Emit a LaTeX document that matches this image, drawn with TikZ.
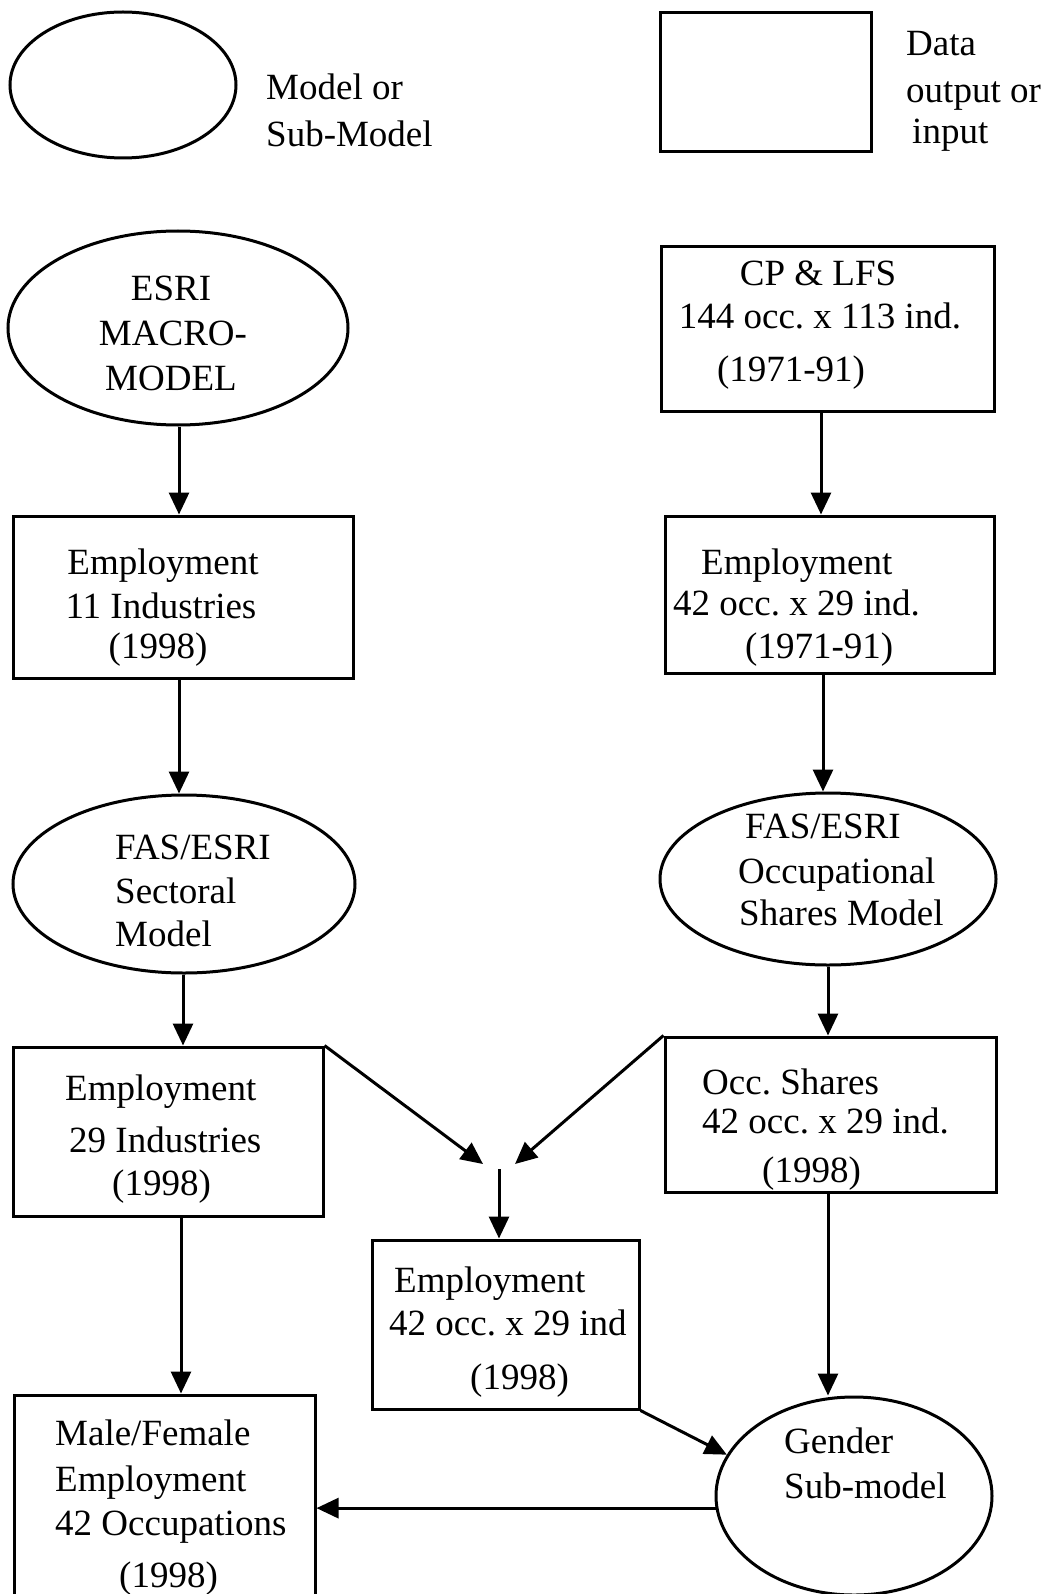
\documentclass[tikz,border=0pt]{standalone}
\usepackage{fontspec}
\setmainfont{Liberation Serif}
\usetikzlibrary{arrows.meta,shapes.geometric}
\tikzset{
  databox/.style={draw, line width=3pt, rectangle, inner sep=0pt},
  modelell/.style={draw, line width=3pt, ellipse, inner sep=0pt},
  txt/.style={font=\fontsize{37pt}{43pt}\selectfont\frenchspacing, text height=24pt, text depth=0pt, inner sep=0pt, anchor=west},
  flow/.style={line width=3pt, -{Triangle[length=22pt,width=20pt]}}
}
\begin{document}
\begin{tikzpicture}[x=1pt,y=-1pt]
\useasboundingbox (0,0) rectangle (1049,1594);
% legend
\node[modelell, minimum width=226pt, minimum height=146pt] (legell) at (123,85) {};
\node[txt] (lt1) at (266,88) {Model or};
\node[txt] (lt2) at (266,135) {Sub-Model};
\node[databox, minimum width=211pt, minimum height=139pt] (legbox) at (765.5,82.5) {};
\node[txt] (lt3) at (906,44) {Data};
\node[txt] (lt4) at (906,91) {output or};
\node[txt] (lt5) at (912,132) {input};
% shapes
\node[modelell, minimum width=340pt, minimum height=194pt] (esri) at (178,328) {};
\node[databox, minimum width=333pt, minimum height=164pt] (cp) at (827.5,329) {};
\node[databox, minimum width=340pt, minimum height=162pt] (emp11) at (183,597) {};
\node[databox, minimum width=329pt, minimum height=157pt] (emp42a) at (829.5,594.5) {};
\node[modelell, minimum width=342pt, minimum height=178pt] (sect) at (184,884) {};
\node[modelell, minimum width=336pt, minimum height=172pt] (occ) at (828,879) {};
\node[databox, minimum width=310pt, minimum height=169pt] (emp29) at (168,1131.5) {};
\node[databox, minimum width=331pt, minimum height=155pt] (shares) at (830.5,1114.5) {};
\node[databox, minimum width=267pt, minimum height=169pt] (empmid) at (505.5,1324.5) {};
\node[modelell, minimum width=276pt, minimum height=198pt] (gender) at (854,1496) {};
\node[databox, minimum width=301pt, minimum height=205pt] (mf) at (164.5,1497.5) {};
% texts
\node[txt, anchor=center] (a1) at (171,289) {ESRI};
\node[txt, anchor=center] (a2) at (173,333) {MACRO-};
\node[txt, anchor=center] (a3) at (171,378) {MODEL};
\node[txt, anchor=center] (b1) at (818,274) {CP \& LFS};
\node[txt, anchor=center] (b2) at (820,316) {144 occ. x 113 ind.};
\node[txt, anchor=center] (b3) at (791,369) {(1971-91)};
\node[txt, anchor=center] (c1) at (163,562) {Employment};
\node[txt, anchor=center] (c2) at (161,606) {11 Industries};
\node[txt, anchor=center] (c3) at (158,646) {(1998)};
\node[txt] (d1) at (701,562) {Employment};
\node[txt] (d2) at (673,603) {42 occ. x 29 ind.};
\node[txt] (d3) at (745,646) {(1971-91)};
\node[txt] (e1) at (115,847) {FAS/ESRI};
\node[txt] (e2) at (115,891) {Sectoral};
\node[txt] (e3) at (115,934) {Model};
\node[txt] (f1) at (745,826) {FAS/ESRI};
\node[txt] (f2) at (738,871) {Occupational};
\node[txt] (f3) at (739,913) {Shares Model};
\node[txt] (g1) at (65,1088) {Employment};
\node[txt] (g2) at (69,1140) {29 Industries};
\node[txt] (g3) at (112,1183) {(1998)};
\node[txt] (h1) at (702,1082) {Occ. Shares};
\node[txt] (h2) at (702,1121) {42 occ. x 29 ind.};
\node[txt] (h3) at (762,1170) {(1998)};
\node[txt] (i1) at (394,1280) {Employment};
\node[txt] (i2) at (389,1323) {42 occ. x 29 ind};
\node[txt] (i3) at (470,1377) {(1998)};
\node[txt] (j1) at (784,1441) {Gender};
\node[txt] (j2) at (784,1486) {Sub-model};
\node[txt] (k1) at (55,1433) {Male/Female};
\node[txt] (k2) at (55,1479) {Employment};
\node[txt] (k3) at (55,1523) {42 Occupations};
\node[txt] (k4) at (119,1575) {(1998)};
% connectors
\coordinate (x1) at (179,0);
\coordinate (x2) at (821,0);
\coordinate (x3) at (823,0);
\coordinate (x4) at (183,0);
\coordinate (x5) at (828,0);
\coordinate (x6) at (181,0);
\coordinate (tipL) at (483,1164);
\coordinate (tipR) at (515,1164);
\coordinate (stub) at (499,1169);
\draw[flow] (x1 |- esri.south) -- (x1 |- emp11.north);
\draw[flow] (x2 |- cp.south) -- (x2 |- emp42a.north);
\draw[flow] (x1 |- emp11.south) -- (x1 |- sect.north);
\draw[flow] (x3 |- emp42a.south) -- (x3 |- occ.north);
\draw[flow] (x4 |- sect.south) -- (x4 |- emp29.north);
\draw[flow] (x5 |- occ.south) -- (x5 |- shares.north);
\draw[flow] (emp29.north east) -- (tipL);
\draw[flow] (shares.north west) -- (tipR);
\draw[flow] (stub) -- (stub |- empmid.north);
\draw[flow] (empmid.south east) -- (gender.162);
\draw[flow] (x5 |- shares.south) -- (x5 |- gender.north);
\draw[flow] (x6 |- emp29.south) -- (x6 |- mf.north);
\draw[flow] (gender.185) -- (gender.185 -| mf.east);
\end{tikzpicture}
\end{document}
